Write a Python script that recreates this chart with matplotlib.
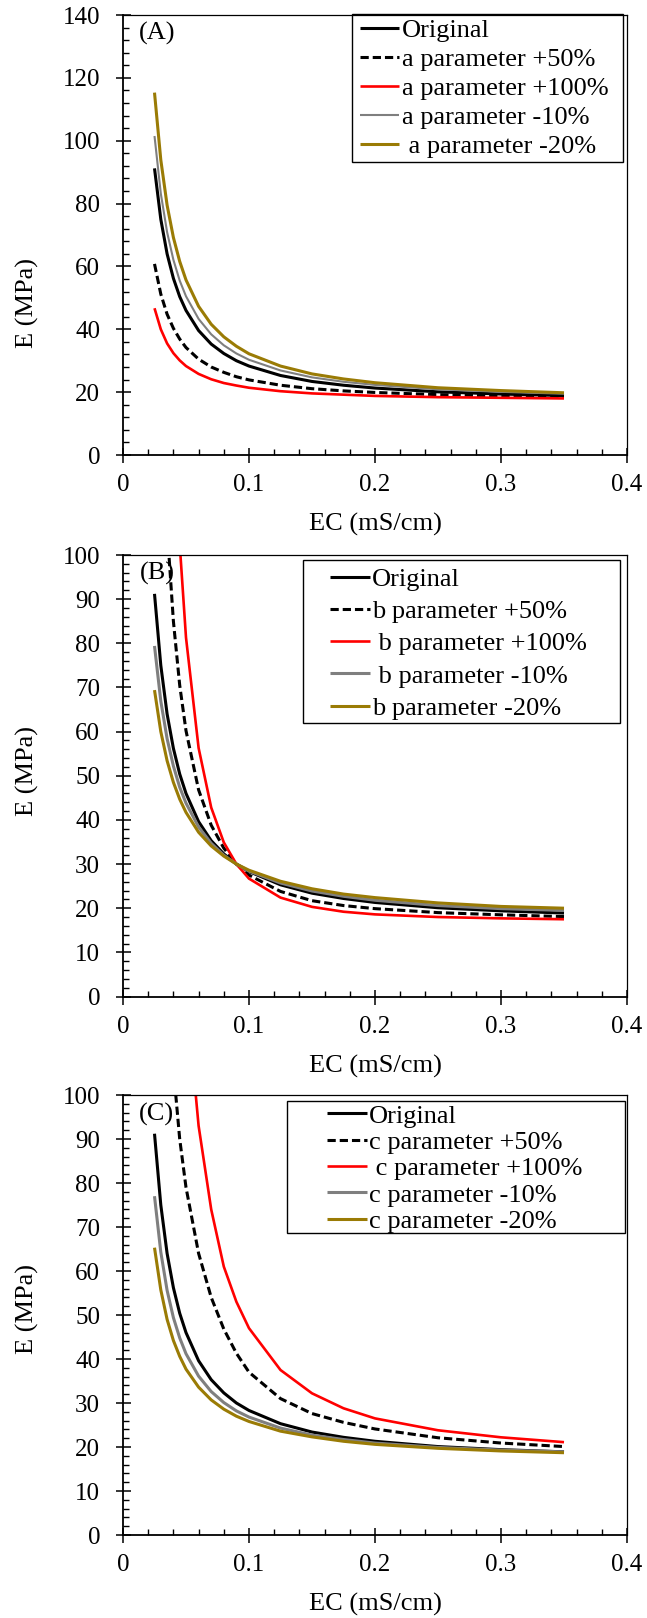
import matplotlib
matplotlib.use("Agg")
import matplotlib.pyplot as plt
from matplotlib.patches import Rectangle

plt.rcParams['font.family'] = ['Liberation Serif', 'DejaVu Serif']

# ── data: E (MPa) against EC (mS/cm) ─────────────────────────────────────────
EC = [0.025, 0.03, 0.035, 0.04, 0.045, 0.05, 0.06, 0.07, 0.08, 0.09,
      0.1, 0.125, 0.15, 0.175, 0.2, 0.25, 0.3, 0.35]

E_original = [91.2, 75.0, 64.0, 56.2, 50.4, 46.0, 39.6, 35.3, 32.3, 30.0,
              28.3, 25.3, 23.4, 22.2, 21.3, 20.1, 19.4, 18.9]

# (A) a parameter
a_plus50 = [60.8, 51.2, 44.8, 40.3, 36.9, 34.2, 30.5, 28.0, 26.3, 24.9,
            23.9, 22.2, 21.1, 20.4, 19.9, 19.2, 18.8, 18.5]
a_plus100 = [46.7, 40.0, 35.5, 32.4, 30.1, 28.3, 25.8, 24.1, 22.9, 22.1,
             21.4, 20.3, 19.6, 19.2, 18.8, 18.4, 18.2, 18.0]
a_minus10 = [101.5, 83.2, 70.9, 62.1, 55.5, 50.5, 43.3, 38.4, 34.9, 32.3,
             30.3, 26.9, 24.7, 23.3, 22.3, 20.9, 20.1, 19.5]
a_minus20 = [115.3, 93.9, 79.5, 69.2, 61.6, 55.7, 47.3, 41.6, 37.6, 34.6,
             32.2, 28.3, 25.8, 24.2, 23.0, 21.4, 20.5, 19.8]

# (B) b parameter
b_plus50 = [193.4, 138.9, 106.2, 85.0, 70.5, 60.2, 46.8, 38.8, 33.6, 30.0,
            27.5, 23.8, 21.7, 20.6, 19.9, 19.0, 18.5, 18.1]
b_plus100 = [436.6, 273.0, 185.9, 134.6, 102.5, 81.3, 56.3, 42.8, 34.9, 30.0,
             26.7, 22.4, 20.3, 19.2, 18.6, 18.0, 17.7, 17.5]
b_minus10 = [79.4, 66.9, 58.4, 52.2, 47.4, 43.8, 38.4, 34.7, 32.0, 30.0,
             28.4, 25.7, 23.9, 22.7, 21.8, 20.6, 19.9, 19.5]
b_minus20 = [69.4, 60.0, 53.4, 48.5, 44.7, 41.7, 37.2, 34.1, 31.8, 30.0,
             28.6, 26.1, 24.4, 23.2, 22.4, 21.2, 20.4, 20.0]

# (C) c parameter
c_plus50 = [200.0, 160.0, 128.0, 106.0, 90.0, 79.0, 64.0, 54.0, 46.8, 41.3,
            37.0, 31.0, 27.6, 25.6, 24.1, 22.1, 20.9, 20.1]
c_plus100 = [380.0, 280.0, 215.0, 172.0, 145.0, 124.0, 93.0, 74.0, 61.0, 53.0,
             47.0, 37.5, 32.2, 28.8, 26.5, 23.8, 22.2, 21.1]
c_minus10 = [77.0, 64.3, 55.6, 49.4, 44.8, 41.2, 36.1, 32.6, 30.1, 28.2,
             26.8, 24.3, 22.7, 21.7, 20.9, 19.9, 19.3, 18.9]
c_minus20 = [65.3, 55.7, 49.0, 44.2, 40.6, 37.7, 33.6, 30.7, 28.6, 27.0,
             25.8, 23.6, 22.3, 21.3, 20.6, 19.7, 19.1, 18.7]

labels_a = ["Original", "a parameter +50%", "a parameter +100%",
            "a parameter -10%", " a parameter -20%"]
labels_b = ["Original", "b parameter +50%", " b parameter +100%",
            " b parameter -10%", "b parameter -20%"]
labels_c = ["Original", "c parameter +50%", " c parameter +100%",
            "c parameter -10%", "c parameter -20%"]

x_ticks = [0, 0.1, 0.2, 0.3, 0.4]
x_ticklabels = ["0", "0.1", "0.2", "0.3", "0.4"]
y_ticks_a = [0, 20, 40, 60, 80, 100, 120, 140]
y_ticks_bc = [0, 10, 20, 30, 40, 50, 60, 70, 80, 90, 100]

GOLD = '#9a7b05'
W, H = 647, 1618


def px_axes(left, top, right, bottom):
    return [left / W, (H - bottom) / H, (right - left) / W, (bottom - top) / H]


fig = plt.figure(figsize=(W / 100, H / 100), dpi=100)


def panel(rect, series, labels, yticks, ymax, yminor, tag, gray_lw,
          leg_anchor, leg_spacing, frame, tag_pos, ylab_y):
    ax = fig.add_axes(rect)
    styles = [dict(color='black', lw=2.2),
              dict(color='black', lw=2.2, dashes=(2.7, 1.3)),
              dict(color='#ff0000', lw=1.9),
              dict(color='#7f7f7f', lw=gray_lw),
              dict(color=GOLD, lw=2.2)]
    for ys, lab, st in zip(series, labels, styles):
        ax.plot(EC, ys, label=lab, solid_capstyle='butt', **st)

    ax.set_xlim(0, 0.4)
    ax.set_ylim(0, ymax)
    ax.set_xticks(x_ticks)
    ax.set_xticklabels(x_ticklabels)
    ax.set_yticks(yticks)
    ax.set_yticklabels([str(v) for v in yticks])
    ax.xaxis.set_minor_locator(matplotlib.ticker.MultipleLocator(0.02))
    ax.yaxis.set_minor_locator(matplotlib.ticker.MultipleLocator(yminor))
    ax.tick_params(which='major', direction='inout', length=10.8, width=1.1,
                   labelsize=18, top=False, right=False)
    ax.tick_params(axis='x', which='major', pad=8.3)
    ax.tick_params(axis='y', which='major', pad=11)
    ax.tick_params(which='minor', direction='in', length=4.5, width=1.0,
                   top=False, right=False)
    for side in ('left', 'bottom'):
        ax.spines[side].set_linewidth(1.3)
    for side in ('top', 'right'):
        ax.spines[side].set_linewidth(0.9)

    ax.set_xlabel('EC (mS/cm)', fontsize=19)
    ax.xaxis.set_label_coords(0.5, -0.132)
    ax.set_ylabel('E (MPa)', fontsize=19)
    ax.yaxis.set_label_coords(-0.167, ylab_y)

    ax.text(tag_pos[0], tag_pos[1], tag, transform=ax.transAxes,
            fontsize=19, ha='left', va='center')

    ax.legend(loc='upper left', bbox_to_anchor=leg_anchor,
              frameon=False, fontsize=19, handlelength=1.5,
              handletextpad=0.1, labelspacing=leg_spacing,
              borderpad=0, borderaxespad=0)
    x0, y0, w, h = frame
    ax.add_patch(Rectangle((x0, y0), w, h, transform=ax.transAxes,
                           fill=False, edgecolor='black', lw=1.0,
                           clip_on=False, zorder=5))
    return ax


panel(px_axes(123, 15, 627, 455),
      [E_original, a_plus50, a_plus100, a_minus10, a_minus20], labels_a,
      y_ticks_a, 140, 4, '(A)', 1.5,
      (0.470, 0.9925), 0.21, (0.4544, 0.666, 0.5377, 0.3364),
      (0.032, 0.957), 0.345)

panel(px_axes(123, 555, 627, 996.5),
      [E_original, b_plus50, b_plus100, b_minus10, b_minus20], labels_b,
      y_ticks_bc, 100, 2, '(B)', 2.2,
      (0.411, 0.972), 0.333, (0.357, 0.6195, 0.629, 0.3692),
      (0.034, 0.959), 0.511)

panel(px_axes(123, 1095, 627, 1535),
      [E_original, c_plus50, c_plus100, c_minus10, c_minus20], labels_c,
      y_ticks_bc, 100, 2, '(C)', 2.2,
      (0.405, 0.979), 0.106, (0.3254, 0.6864, 0.6706, 0.30),
      (0.032, 0.956), 0.513)

fig.savefig('out.png', dpi=100)
